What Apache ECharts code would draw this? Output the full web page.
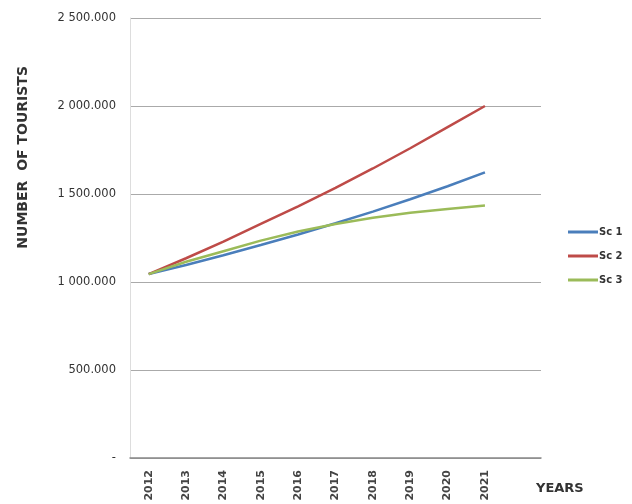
<!DOCTYPE html>
<html>
<head>
<meta charset="utf-8">
<script src="https://cdn.jsdelivr.net/npm/echarts@6/dist/echarts.min.js"></script>
<style>html,body{margin:0;padding:0;background:#fff}#c{width:632px;height:504px}</style>
</head>
<body>
<div id="c"></div>
<script>
var years = ['2012','2013','2014','2015','2016','2017','2018','2019','2020','2021',''];
var sc1 = [1045000,1097000,1152000,1210000,1270000,1334000,1400000,1470000,1544000,1623000];
var sc2 = [1045000,1135000,1230000,1330000,1430000,1535000,1645000,1760000,1880000,2000000];
var sc3 = [1045000,1115000,1175000,1235000,1287000,1330000,1365000,1393000,1415000,1435000];
var seriesNames = ['Sc 1','Sc 2','Sc 3'];
var yTicks = {0:'-',500000:'500.000',1000000:'1 000.000',1500000:'1 500.000',2000000:'2 000.000',2500000:'2 500.000'};

var chart = echarts.init(document.getElementById('c'));
var font = 'DejaVu Sans';
chart.setOption({
  animation: false,
  backgroundColor: '#fff',
  grid: {left: 130, right: 91, top: 18, bottom: 46},
  legend: {
    orient: 'vertical', left: 563, top: 222, itemGap: 14,
    icon: 'rect', itemWidth: 30, itemHeight: 3,
    textStyle: {fontFamily: font, fontSize: 10, color: '#333', fontWeight: 'bold', padding: [0,0,0,-4]},
    data: seriesNames
  },
  xAxis: {
    type: 'category', data: years, boundaryGap: true,
    axisLine: {lineStyle: {color: '#888', width: 1.5}},
    axisTick: {inside: true, length: 4, lineStyle: {color: '#888'}},
    axisLabel: {rotate: 90, margin: 12, fontFamily: font, fontSize: 11, fontWeight: 'bold', color: '#444'},
    splitLine: {show: false}
  },
  yAxis: {
    type: 'value', min: 0, max: 2500000, interval: 500000,
    axisLine: {show: true, lineStyle: {color: '#ddd'}},
    axisTick: {show: false},
    axisLabel: {margin: 14, fontFamily: font, fontSize: 11.5, color: '#333', formatter: function(v){return yTicks[v];}},
    splitLine: {lineStyle: {color: '#aaa', width: 1}}
  },
  graphic: [
    {type: 'text', left: 16, top: 66, rotation: Math.PI/2, style: {text: 'NUMBER  OF TOURISTS', font: 'bold 14px "DejaVu Sans"', fill: '#333'}},
    {type: 'text', left: 536, top: 482, style: {text: 'YEARS', font: 'bold 13px "DejaVu Sans"', fill: '#333'}}
  ],
  series: [
    {name: seriesNames[0], type: 'line', data: sc1, symbol: 'none', lineStyle: {color: '#4a7ebb', width: 2.5}, itemStyle: {color: '#4a7ebb'}},
    {name: seriesNames[1], type: 'line', data: sc2, symbol: 'none', lineStyle: {color: '#be4b48', width: 2.5}, itemStyle: {color: '#be4b48'}},
    {name: seriesNames[2], type: 'line', data: sc3, symbol: 'none', lineStyle: {color: '#9bbb59', width: 2.5}, itemStyle: {color: '#9bbb59'}}
  ]
});
</script>
</body>
</html>
